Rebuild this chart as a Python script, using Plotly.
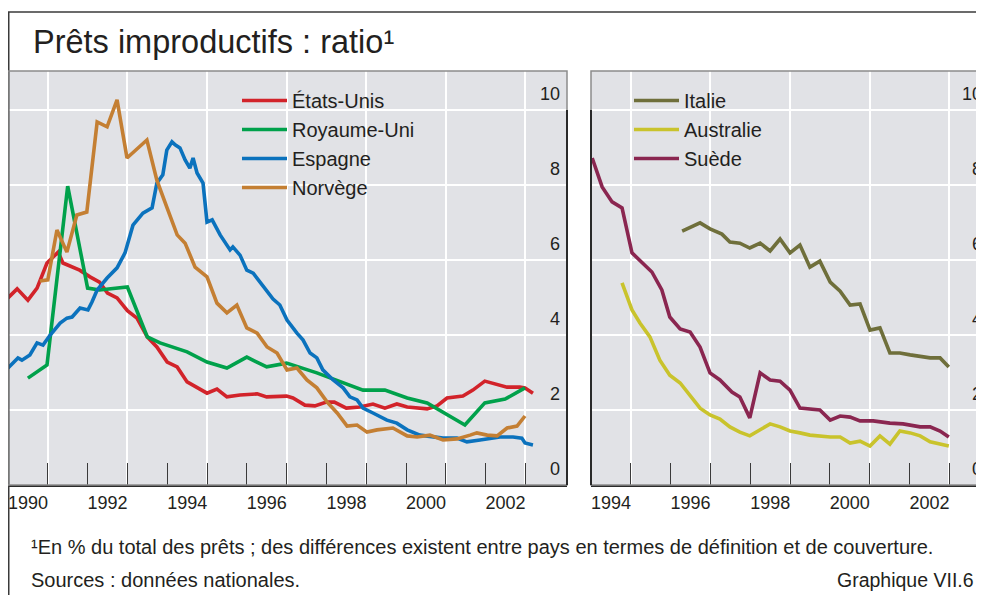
import plotly.graph_objects as go

# ---------------- Data ----------------
# Left panel
us_years = [1990.0, 1990.23, 1990.5, 1990.73, 1990.98, 1991.12, 1991.26, 1991.38, 1991.5, 1991.8,
            1992.06, 1992.3, 1992.5, 1992.74, 1993.0, 1993.24, 1993.5, 1993.74, 1994.0, 1994.25,
            1994.5, 1994.75, 1995.0, 1995.25, 1995.5, 1995.83, 1996.26, 1996.5, 1996.76, 1997.0,
            1997.16, 1997.46, 1997.71, 1998.0, 1998.2, 1998.5, 1998.84, 1999.17, 1999.47, 1999.77,
            2000.03, 2000.53, 2000.78, 2001.03, 2001.43, 2001.68, 2001.98, 2002.24, 2002.54, 2002.86,
            2002.99, 2003.19]
us_values = [4.99, 5.23, 4.93, 5.25, 5.92, 6.05, 6.21, 5.92, 5.87, 5.73,
             5.55, 5.41, 5.12, 4.99, 4.65, 4.45, 3.95, 3.68, 3.28, 3.15,
             2.75, 2.59, 2.45, 2.56, 2.35, 2.4, 2.43, 2.35, 2.35, 2.37,
             2.32, 2.13, 2.11, 2.21, 2.21, 2.05, 2.08, 2.16, 2.05, 2.16,
             2.08, 2.03, 2.11, 2.32, 2.37, 2.53, 2.77, 2.69, 2.61, 2.61,
             2.59, 2.45]

uk_years = [1990.5, 1990.98, 1991.5, 1992.0, 1992.3, 1993.0, 1993.5, 1993.82, 1994.5, 1995.0,
            1995.5, 1996.0, 1996.5, 1997.0, 1997.76, 1998.42, 1998.92, 1999.47, 2000.03, 2000.53,
            2001.48, 2001.98, 2002.49, 2002.99]
uk_values = [2.85, 3.2, 7.97, 5.25, 5.2, 5.28, 3.95, 3.79, 3.55, 3.28,
             3.12, 3.41, 3.15, 3.25, 2.99, 2.72, 2.53, 2.53, 2.32, 2.19,
             1.6, 2.19, 2.29, 2.59]

es_years = [1990.0, 1990.25, 1990.35, 1990.55, 1990.73, 1990.88, 1991.06, 1991.31, 1991.48, 1991.61,
            1991.81, 1992.01, 1992.11, 1992.24, 1992.49, 1992.74, 1992.94, 1993.14, 1993.39, 1993.62,
            1993.74, 1993.89, 1993.99, 1994.12, 1994.2, 1994.32, 1994.45, 1994.57, 1994.65, 1994.75,
            1994.9, 1995.0, 1995.13, 1995.33, 1995.58, 1995.65, 1995.83, 1996.0, 1996.16, 1996.33,
            1996.51, 1996.66, 1996.83, 1997.01, 1997.26, 1997.41, 1997.59, 1997.76, 1997.91, 1998.17,
            1998.42, 1998.59, 1998.77, 1998.92, 1999.17, 1999.52, 1999.77, 2000.03, 2000.35, 2000.65,
            2000.93, 2001.28, 2001.53, 2001.86, 2002.11, 2002.36, 2002.69, 2002.91, 2002.99, 2003.19]
es_values = [3.12, 3.39, 3.33, 3.47, 3.79, 3.73, 4.0, 4.32, 4.45, 4.48,
             4.72, 4.67, 4.88, 5.2, 5.52, 5.79, 6.19, 6.93, 7.25, 7.39,
             8.05, 8.27, 8.93, 9.15, 9.07, 8.99, 8.67, 8.45, 8.72, 8.32,
             8.05, 7.01, 7.07, 6.67, 6.27, 6.35, 6.13, 5.73, 5.65, 5.41,
             5.15, 4.96, 4.8, 4.4, 4.05, 3.87, 3.52, 3.39, 3.07, 2.8,
             2.59, 2.35, 2.27, 2.05, 1.92, 1.73, 1.65, 1.47, 1.33, 1.28,
             1.25, 1.25, 1.15, 1.2, 1.23, 1.28, 1.28, 1.25, 1.12, 1.07]

no_years = [1990.8, 1991.0, 1991.23, 1991.48, 1991.73, 1991.98, 1992.24, 1992.49, 1992.74, 1992.99,
            1993.49, 1993.74, 1993.99, 1994.25, 1994.45, 1994.7, 1995.0, 1995.25, 1995.5, 1995.75,
            1996.0, 1996.26, 1996.51, 1996.76, 1997.01, 1997.26, 1997.51, 1997.76, 1998.02, 1998.27,
            1998.52, 1998.77, 1999.02, 1999.27, 1999.67, 2000.03, 2000.28, 2000.6, 2000.93, 2001.28,
            2001.61, 2001.78, 2002.04, 2002.29, 2002.54, 2002.79, 2002.99]
no_values = [5.44, 5.47, 6.8, 6.21, 7.2, 7.28, 9.68, 9.55, 10.27, 8.72,
             9.2, 8.13, 7.41, 6.67, 6.45, 5.81, 5.55, 4.85, 4.59, 4.8,
             4.19, 4.05, 3.68, 3.52, 3.07, 3.12, 2.8, 2.59, 2.21, 1.92,
             1.57, 1.6, 1.41, 1.47, 1.52, 1.31, 1.28, 1.33, 1.2, 1.23,
             1.33, 1.39, 1.33, 1.31, 1.52, 1.57, 1.84]

# Right panel
it_years = [1996.29, 1996.74, 1996.99, 1997.29, 1997.49, 1997.74, 1997.99, 1998.25, 1998.5, 1998.75,
            1999.0, 1999.25, 1999.5, 1999.75, 2000.01, 2000.26, 2000.51, 2000.76, 2001.01, 2001.26,
            2001.51, 2001.76, 2002.02, 2002.27, 2002.52, 2002.77, 2002.99]
it_values = [6.77, 6.99, 6.83, 6.69, 6.48, 6.45, 6.32, 6.45, 6.24, 6.56,
             6.19, 6.4, 5.81, 5.97, 5.41, 5.17, 4.8, 4.83, 4.13, 4.19,
             3.52, 3.52, 3.47, 3.44, 3.39, 3.39, 3.15]

au_years = [1994.78, 1995.03, 1995.23, 1995.48, 1995.73, 1995.98, 1996.24, 1996.49, 1996.74, 1996.99,
            1997.24, 1997.49, 1997.74, 1997.99, 1998.25, 1998.5, 1998.75, 1999.0, 1999.25, 1999.5,
            2000.01, 2000.26, 2000.51, 2000.76, 2001.01, 2001.26, 2001.51, 2001.76, 2002.02, 2002.27,
            2002.52, 2002.77, 2002.99]
au_values = [5.39, 4.67, 4.32, 3.95, 3.33, 2.93, 2.72, 2.4, 2.05, 1.87,
             1.76, 1.55, 1.41, 1.31, 1.47, 1.63, 1.55, 1.44, 1.39, 1.33,
             1.28, 1.28, 1.12, 1.17, 1.04, 1.31, 1.09, 1.44, 1.39, 1.31,
             1.15, 1.09, 1.04]

se_years = [1994.03, 1994.28, 1994.53, 1994.78, 1995.03, 1995.28, 1995.53, 1995.78, 1995.98, 1996.24,
            1996.49, 1996.74, 1996.99, 1997.24, 1997.54, 1997.74, 1997.99, 1998.25, 1998.5, 1998.75,
            1999.0, 1999.25, 1999.75, 2000.01, 2000.26, 2000.51, 2000.76, 2001.09, 2001.51, 2001.84,
            2002.27, 2002.52, 2002.77, 2002.99]
se_values = [8.72, 7.95, 7.55, 7.39, 6.19, 5.95, 5.68, 5.2, 4.48, 4.16,
             4.08, 3.68, 2.99, 2.8, 2.48, 2.35, 1.79, 2.99, 2.8, 2.77,
             2.53, 2.05, 2.0, 1.73, 1.84, 1.81, 1.71, 1.71, 1.65, 1.63,
             1.55, 1.55, 1.44, 1.28]

left_series = [("États-Unis", us_years, us_values, "#d2232a"),
               ("Royaume-Uni", uk_years, uk_values, "#00a14b"),
               ("Espagne", es_years, es_values, "#0b72bd"),
               ("Norvège", no_years, no_values, "#c47f33")]
right_series = [("Italie", it_years, it_values, "#6f6f3b"),
                ("Australie", au_years, au_values, "#c9c32c"),
                ("Suède", se_years, se_values, "#8a2650")]

left_labels = [1990, 1992, 1994, 1996, 1998, 2000, 2002]
left_grid_years = [1991, 1993, 1995, 1997, 1999, 2001, 2003]
right_labels = [1994, 1996, 1998, 2000, 2002]
right_grid_years = [1995, 1997, 1999, 2001, 2003]
y_ticks = [0, 2, 4, 6, 8, 10]

title_text = "Prêts improductifs : ratio¹"
footnote_text = "¹En % du total des prêts ; des différences existent entre pays en termes de définition et de couverture."
source_text = "Sources : données nationales."
chart_id_text = "Graphique VII.6"

# ---------------- Figure ----------------
W, H = 984, 595
OFF = 8  # the page shows the figure shifted by the body margin
FONT = "Liberation Sans, Arial, sans-serif"
TXT = "#231f20"


def px(sx):
    return (sx - OFF) / W


def py(sy):
    return 1 - (sy - OFF) / H


fig = go.Figure()
for name, xs, ys, col in left_series:
    fig.add_trace(go.Scatter(x=xs, y=ys, name=name, mode="lines",
                             line=dict(color=col, width=3.6), xaxis="x", yaxis="y",
                             legend="legend"))
for name, xs, ys, col in right_series:
    fig.add_trace(go.Scatter(x=xs, y=ys, name=name, mode="lines",
                             line=dict(color=col, width=3.6), xaxis="x2", yaxis="y2",
                             legend="legend2"))

y_dom = [py(485), py(71)]
y_range = [0, (485 - 71) / 37.5]


def xaxis(dom, rng, labels, grid):
    return dict(domain=dom, range=rng, tickmode="array", tickvals=labels,
                ticktext=[str(v) for v in labels], ticks="inside", ticklen=22,
                tickwidth=1.3, tickcolor="#3a3a3a", ticklabelshift=20,
                ticklabeloverflow="allow",
                showgrid=False, zeroline=False, showline=True, linecolor="#2a2a2a",
                linewidth=2, tickfont=dict(size=18, color=TXT, family=FONT),
                minor=dict(tickmode="array", tickvals=grid, ticks="inside", ticklen=22,
                           tickwidth=1.3, tickcolor="#3a3a3a", showgrid=True,
                           gridcolor="white", gridwidth=1.6),
                fixedrange=True)


def yaxis(anchor):
    return dict(domain=y_dom, range=y_range, anchor=anchor, side="right",
                tickmode="array", tickvals=y_ticks, ticks="",
                ticklabelposition="inside top", ticklabelshift=-4, ticklabelstandoff=4,
                ticklabeloverflow="allow",
                showgrid=True, gridcolor="white",
                gridwidth=1.6, zeroline=False, showline=False,
                tickfont=dict(size=18, color=TXT, family=FONT), fixedrange=True)


fig.update_layout(
    width=W, height=H, margin=dict(l=0, r=0, t=0, b=0),
    paper_bgcolor="white", plot_bgcolor="#e1e2e6",
    font=dict(family=FONT, color=TXT),
    xaxis=dict(anchor="y", **xaxis([px(8), px(567)], [1990, 1990 + 559 / 39.8], left_labels, left_grid_years)),
    yaxis=yaxis("x"),
    xaxis2=dict(anchor="y2", **xaxis([px(591), px(989)], [1994, 2004], right_labels, right_grid_years)),
    yaxis2=yaxis("x2"),
    legend=dict(x=px(237), y=py(81), xanchor="left", yanchor="top",
                bgcolor="rgba(0,0,0,0)", font=dict(size=20, color=TXT, family=FONT),
                tracegroupgap=0, itemwidth=45),
    legend2=dict(x=px(629), y=py(81), xanchor="left", yanchor="top",
                 bgcolor="rgba(0,0,0,0)", font=dict(size=20, color=TXT, family=FONT),
                 tracegroupgap=0, itemwidth=45),
    showlegend=True,
)

shapes = []
# outer frame
shapes.append(dict(type="line", xref="paper", yref="paper", x0=px(8), x1=1, y0=py(12), y1=py(12),
                   line=dict(color="#3a3a3a", width=1.5)))
shapes.append(dict(type="line", xref="paper", yref="paper", x0=px(8.75), x1=px(8.75), y0=py(12), y1=0,
                   line=dict(color="#3a3a3a", width=1.5)))
# panel borders
for xa, ya in (("x", "y"), ("x2", "y2")):
    shapes.append(dict(type="rect", xref=f"{xa} domain", yref=f"{ya} domain", x0=0, x1=1, y0=0, y1=1,
                       line=dict(color="#8c8c8c", width=1.5), layer="above"))
shapes.append(dict(type="line", xref="x domain", yref="y", x0=1, x1=1, y0=0, y1=10,
                   line=dict(color="#2a2a2a", width=2), layer="above"))
shapes.append(dict(type="line", xref="x2 domain", yref="y2", x0=0, x1=0, y0=0, y1=10,
                   line=dict(color="#2a2a2a", width=2), layer="above"))
fig.update_layout(shapes=shapes)

ann = [
    dict(text=title_text, x=px(31), y=py(42), xref="paper", yref="paper", xanchor="left",
         yanchor="middle", showarrow=False, font=dict(size=32.5, color=TXT, family=FONT)),
    dict(text=footnote_text, x=px(29), y=py(547), xref="paper", yref="paper", xanchor="left",
         yanchor="middle", showarrow=False, font=dict(size=20, color=TXT, family=FONT)),
    dict(text=source_text, x=px(29), y=py(580), xref="paper", yref="paper", xanchor="left",
         yanchor="middle", showarrow=False, font=dict(size=20, color=TXT, family=FONT)),
    dict(text=chart_id_text, x=px(976), y=py(580), xref="paper", yref="paper", xanchor="right",
         yanchor="middle", showarrow=False, font=dict(size=19.5, color=TXT, family=FONT)),
]
fig.update_layout(annotations=ann)

fig.write_html("out.html")
